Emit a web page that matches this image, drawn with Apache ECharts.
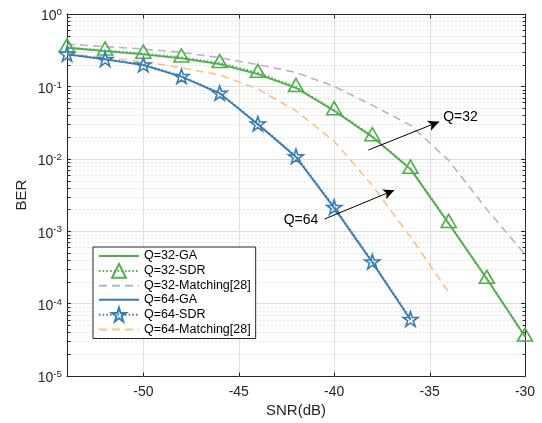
<!DOCTYPE html>
<html>
<head>
<meta charset="utf-8">
<script src="https://cdn.jsdelivr.net/npm/echarts@6/dist/echarts.min.js"></script>
<style>
  html, body { margin: 0; padding: 0; background: #fff; }
  #main { width: 542px; height: 423px; }
</style>
</head>
<body>
<div id="main"></div>
<script>
// SNR points (dB)
var snr32 = [-54, -52, -50, -48, -46, -44, -42, -40, -38, -36, -34, -32, -30];
var snr64 = [-54, -52, -50, -48, -46, -44, -42, -40, -38, -36];
var snr64Match = [-54, -52, -50, -48, -46, -44, -42, -40, -38, -36, -34];

// BER
var ber32GA = [0.342, 0.308, 0.277, 0.244, 0.203, 0.148, 0.095, 0.046, 0.020, 0.0072, 0.00128, 0.00022, 0.000035];
var ber32SDR = [0.346, 0.313, 0.283, 0.251, 0.210, 0.154, 0.098, 0.047, 0.0205, 0.0073, 0.0013, 0.00022, 0.000035];
var ber32Match = [0.381, 0.355, 0.328, 0.295, 0.249, 0.200, 0.156, 0.100, 0.055, 0.029, 0.0095, 0.0020, 0.00048];
var ber64GA = [0.277, 0.236, 0.197, 0.136, 0.080, 0.030, 0.0106, 0.0021, 0.00037, 0.000060];
var ber64SDR = [0.280, 0.238, 0.200, 0.138, 0.081, 0.0305, 0.0108, 0.00215, 0.00038, 0.000061];
var ber64Match = [0.286, 0.250, 0.219, 0.181, 0.144, 0.092, 0.046, 0.0175, 0.0043, 0.00083, 0.000144];

var xTicks = [-50, -45, -40, -35, -30];
var xMin = -54, xMax = -30;
var yMin = 1e-5, yMax = 1;

var green = '#4daf4a', blue = '#377eb8', purple = '#beaed4', orange = '#fdc086';
var axisColor = '#262626';
var font = "'Liberation Sans', Arial, Helvetica, sans-serif";

// minor decade values 2..9 x 10^e
var minorY = [];
for (var e = -5; e < 0; e++) {
    for (var m = 2; m <= 9; m++) {
        minorY.push(Number((m * Math.pow(10, e)).toPrecision(3)));
    }
}

function pairs(xs, ys) {
    var out = [];
    for (var i = 0; i < xs.length; i++) out.push([xs[i], ys[i]]);
    return out;
}

var starPath = 'path://M100,0 L122.45,69.1 L195.1,69.1 L136.3,111.8 L158.8,180.9 L100,138.2 L41.2,180.9 L63.7,111.8 L4.9,69.1 L77.55,69.1 Z';

// grid lines, dotted minor lines and tick marks
function renderFrame(params, api) {
    var kids = [];
    var left = Math.round(api.coord([xMin, yMin])[0]) + 0.5;
    var right = Math.round(api.coord([xMax, yMin])[0]) + 0.5;
    var bottom = Math.round(api.coord([xMin, yMin])[1]) + 0.5;
    var top = Math.round(api.coord([xMin, yMax])[1]) + 0.5;
    minorY.forEach(function (v) {
        var y = Math.round(api.coord([xMin, v])[1]) + 0.5;
        kids.push({type: 'line', shape: {x1: left, y1: y, x2: right, y2: y},
            style: {stroke: '#cacaca', lineWidth: 1, lineDash: [1, 3]}});
        kids.push({type: 'line', shape: {x1: left, y1: y, x2: left + 3, y2: y},
            style: {stroke: axisColor, lineWidth: 1}});
        kids.push({type: 'line', shape: {x1: right - 3, y1: y, x2: right, y2: y},
            style: {stroke: axisColor, lineWidth: 1}});
    });
    xTicks.forEach(function (v) {
        var x = Math.round(api.coord([v, yMin])[0]) + 0.5;
        if (v !== xMax) {
            kids.push({type: 'line', shape: {x1: x, y1: top, x2: x, y2: bottom},
                style: {stroke: '#e0e0e0', lineWidth: 1}});
        }
        kids.push({type: 'line', shape: {x1: x, y1: bottom, x2: x, y2: bottom - 4},
            style: {stroke: axisColor, lineWidth: 1}});
        kids.push({type: 'line', shape: {x1: x, y1: top, x2: x, y2: top + 4},
            style: {stroke: axisColor, lineWidth: 1}});
    });
    return {type: 'group', children: kids};
}

var noMarker = {color: 'rgba(0,0,0,0)', borderWidth: 0, opacity: 0};

var chart = echarts.init(document.getElementById('main'), null, {renderer: 'canvas'});

var option = {
    backgroundColor: '#ffffff',
    animation: false,
    textStyle: {fontFamily: font},
    grid: {left: 67, right: 17, top: 14, bottom: 47},
    legend: {
        data: [
            {name: 'Q=32-GA', itemStyle: noMarker},
            {name: 'Q=32-SDR'},
            {name: 'Q=32-Matching[28]', itemStyle: noMarker},
            {name: 'Q=64-GA', itemStyle: noMarker},
            {name: 'Q=64-SDR'},
            {name: 'Q=64-Matching[28]', itemStyle: noMarker}
        ],
        orient: 'vertical',
        left: 93,
        top: 247,
        padding: [2, 5, 2, 5],
        itemWidth: 40,
        itemHeight: 17.4,
        itemGap: 0,
        backgroundColor: '#ffffff',
        borderColor: axisColor,
        borderWidth: 1,
        borderRadius: 0,
        textStyle: {fontFamily: font, fontSize: 12.5, color: '#000', padding: [0, 0, 0, 0]},
        selectedMode: false
    },
    xAxis: [{
        type: 'value',
        min: xMin, max: xMax, interval: 1,
        name: 'SNR(dB)',
        nameLocation: 'middle',
        nameGap: 27,
        nameMoveOverlap: false,
        nameTextStyle: {fontFamily: font, fontSize: 15, color: axisColor},
        axisLine: {show: true, onZero: false, lineStyle: {color: axisColor, width: 1}},
        axisTick: {show: false},
        splitLine: {show: false},
        axisLabel: {
            margin: 9, fontFamily: font, fontSize: 14, color: axisColor,
            formatter: function (v) { return v % 5 === 0 ? String(v) : ''; }
        }
    }, {
        type: 'value',
        position: 'top',
        min: xMin, max: xMax, interval: 1,
        axisLine: {show: true, onZero: false, lineStyle: {color: axisColor, width: 1}},
        axisTick: {show: false},
        axisLabel: {show: false},
        splitLine: {show: false}
    }],
    yAxis: [{
        type: 'log',
        logBase: 10,
        min: yMin, max: yMax,
        splitNumber: 5,
        name: 'BER',
        nameLocation: 'middle',
        nameGap: 38,
        nameMoveOverlap: false,
        nameTextStyle: {fontFamily: font, fontSize: 15, color: axisColor},
        axisLine: {show: true, onZero: false, lineStyle: {color: axisColor, width: 1}},
        axisTick: {show: true, inside: true, length: 4, lineStyle: {color: axisColor}},
        splitLine: {show: true, lineStyle: {color: '#dedede', width: 1}},
        axisLabel: {
            margin: 5,
            formatter: function (v) {
                var ex = Math.round(Math.log(v) / Math.LN10);
                return '{b|10}{s|' + ex + '}';
            },
            rich: {
                b: {fontFamily: font, fontSize: 14, color: axisColor, padding: [5, 0, 0, 0]},
                s: {fontFamily: font, fontSize: 9.8, color: axisColor, padding: [0, 0, 3, 0]}
            }
        }
    }, {
        type: 'log',
        logBase: 10,
        position: 'right',
        min: yMin, max: yMax,
        splitNumber: 5,
        axisLine: {show: true, onZero: false, lineStyle: {color: axisColor, width: 1}},
        axisTick: {show: true, inside: true, length: 4, lineStyle: {color: axisColor}},
        axisLabel: {show: false},
        splitLine: {show: false}
    }],
    series: [{
        type: 'custom',
        silent: true,
        z: 1,
        clip: false,
        renderItem: renderFrame,
        data: [[xMin, yMax]]
    }, {
        name: 'Q=32-GA',
        type: 'line',
        data: pairs(snr32, ber32GA),
        symbol: 'none',
        color: green,
        lineStyle: {color: green, width: 1.8, type: 'solid'},
        z: 3
    }, {
        name: 'Q=32-SDR',
        type: 'line',
        data: pairs(snr32, ber32SDR),
        symbol: 'triangle',
        symbolSize: [15, 13],
        symbolOffset: [0, -2],
        showAllSymbol: true,
        color: green,
        itemStyle: {color: 'rgba(255,255,255,0)', borderColor: green, borderWidth: 1.6},
        lineStyle: {color: green, width: 2, type: [1.5, 2.2]},
        z: 4
    }, {
        name: 'Q=32-Matching[28]',
        type: 'line',
        data: pairs(snr32, ber32Match),
        symbol: 'none',
        color: purple,
        lineStyle: {color: purple, width: 1.6, type: [8, 5]},
        z: 2
    }, {
        name: 'Q=64-GA',
        type: 'line',
        data: pairs(snr64, ber64GA),
        symbol: 'none',
        color: blue,
        lineStyle: {color: blue, width: 1.8, type: 'solid'},
        z: 3
    }, {
        name: 'Q=64-SDR',
        type: 'line',
        data: pairs(snr64, ber64SDR),
        symbol: starPath,
        symbolSize: [15, 14.3],
        showAllSymbol: true,
        color: blue,
        itemStyle: {color: 'rgba(255,255,255,0)', borderColor: blue, borderWidth: 1.6},
        lineStyle: {color: blue, width: 2, type: [1.5, 2.2]},
        z: 4
    }, {
        name: 'Q=64-Matching[28]',
        type: 'line',
        data: pairs(snr64Match, ber64Match),
        symbol: 'none',
        color: orange,
        lineStyle: {color: orange, width: 1.6, type: [8, 5]},
        z: 2
    }, {
        // annotation arrows and texts
        type: 'line',
        data: [],
        silent: true,
        z: 5,
        markLine: {
            silent: true,
            symbol: ['none', 'arrow'],
            symbolSize: [8, 11],
            label: {show: false},
            lineStyle: {color: '#000', width: 1, type: 'solid'},
            data: [
                [{coord: [-38.21, 0.0132]}, {coord: [-34.5, 0.0325]}],
                [{coord: [-40.51, 0.00147]}, {coord: [-36.85, 0.00369]}]
            ]
        },
        markPoint: {
            silent: true,
            symbol: 'circle',
            symbolSize: 0,
            data: [
                {coord: [-34.29, 0.0377], value: 'Q=32',
                    label: {show: true, position: 'right', distance: 0, formatter: 'Q=32',
                        fontFamily: font, fontSize: 14, color: '#000'}},
                {coord: [-40.83, 0.00142], value: 'Q=64',
                    label: {show: true, position: 'left', distance: 0, formatter: 'Q=64',
                        fontFamily: font, fontSize: 14, color: '#000'}}
            ]
        }
    }]
};

chart.setOption(option);
</script>
</body>
</html>
